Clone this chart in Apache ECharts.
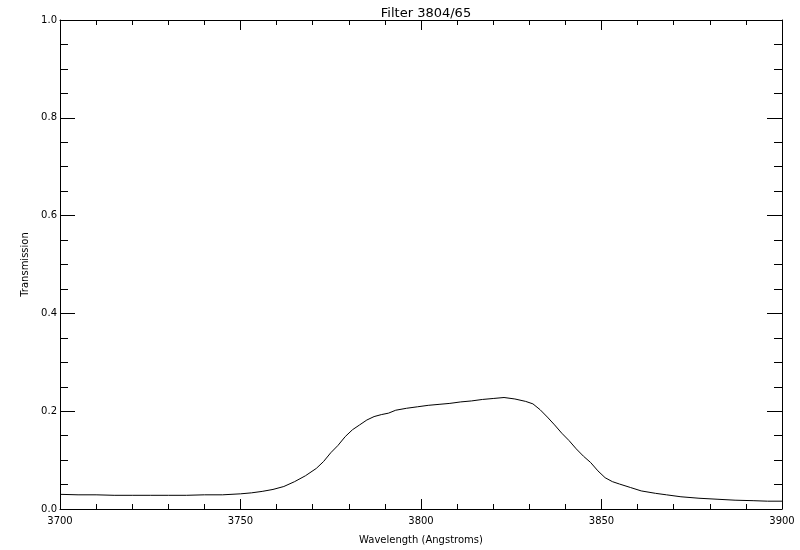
<!DOCTYPE html>
<html>
<head>
<meta charset="utf-8">
<script src="https://cdn.jsdelivr.net/npm/echarts@6/dist/echarts.min.js"></script>
<style>html,body{margin:0;padding:0;background:#fff}#c{width:800px;height:550px}</style>
</head>
<body>
<div id="c"></div>
<script>
var titleText = "Filter 3804/65";
var xName = "Wavelength (Angstroms)";
var yName = "Transmission";
var wavelengths = [3700,3705,3710,3715,3720,3725,3730,3735,3740,3745,3750,3753,3756,3759,3762,3765,3768,3771,3773,3775,3777,3779,3781,3783,3785,3787,3789,3791,3793,3796,3799,3802,3805,3808,3811,3814,3817,3820,3823,3826,3829,3831,3833,3835,3837,3839,3841,3843,3845,3847,3849,3851,3853,3855,3858,3861,3865,3868,3872,3877,3882,3887,3892,3896,3900];
var transmission = [0.030,0.029,0.029,0.028,0.028,0.028,0.028,0.028,0.029,0.029,0.031,0.033,0.036,0.040,0.046,0.056,0.068,0.083,0.097,0.115,0.130,0.148,0.162,0.172,0.182,0.189,0.193,0.196,0.202,0.206,0.209,0.212,0.214,0.216,0.219,0.221,0.224,0.226,0.228,0.225,0.220,0.215,0.203,0.188,0.172,0.155,0.140,0.123,0.108,0.095,0.078,0.064,0.056,0.051,0.044,0.037,0.032,0.029,0.025,0.022,0.020,0.018,0.017,0.016,0.016];

var data = wavelengths.map(function(w,i){return [w, transmission[i]];});
var font = "DejaVu Sans";
var chart = echarts.init(document.getElementById('c'));
var xBase = {type:'value', min:3700, max:3900, interval:50,
  axisLine:{show:true, onZero:false, lineStyle:{color:'#000', width:1}},
  axisTick:{show:true, inside:true, length:10, lineStyle:{color:'#000'}},
  minorTick:{show:true, splitNumber:5, length:5, lineStyle:{color:'#000'}},
  splitLine:{show:false}};
var yBase = {type:'value', min:0, max:1, interval:0.2,
  axisLine:{show:true, onZero:false, lineStyle:{color:'#000', width:1}},
  axisTick:{show:true, inside:true, length:15, lineStyle:{color:'#000'}},
  minorTick:{show:true, splitNumber:4, length:8, lineStyle:{color:'#000'}},
  splitLine:{show:false}};
chart.setOption({
  animation:false,
  backgroundColor:'#fff',
  title:{text:titleText, left:421, textAlign:'center', top:2, textStyle:{fontFamily:font, fontSize:13, fontWeight:'normal', color:'#000'}},
  grid:{left:60, right:18, top:20, bottom:41},
  xAxis:[
    Object.assign({}, xBase, {position:'bottom', name:xName, nameLocation:'middle', nameGap:26,
      nameTextStyle:{fontFamily:font, fontSize:10, color:'#000'},
      axisLabel:{show:true, margin:7, fontFamily:font, fontSize:10, color:'#000', formatter:function(v){return String(v);}}}),
    Object.assign({}, xBase, {position:'top', axisLabel:{show:false}})
  ],
  yAxis:[
    Object.assign({}, yBase, {position:'left', name:yName, nameLocation:'middle', nameGap:28,
      nameTextStyle:{fontFamily:font, fontSize:10, color:'#000'},
      axisLabel:{show:true, margin:3, fontFamily:font, fontSize:10, color:'#000', formatter:function(v){return v.toFixed(1);}}}),
    Object.assign({}, yBase, {position:'right', axisLabel:{show:false}})
  ],
  series:[{type:'line', data:data, xAxisIndex:0, yAxisIndex:0, showSymbol:false, symbol:'none',
    lineStyle:{color:'#000', width:1}}]
});
</script>
</body>
</html>
